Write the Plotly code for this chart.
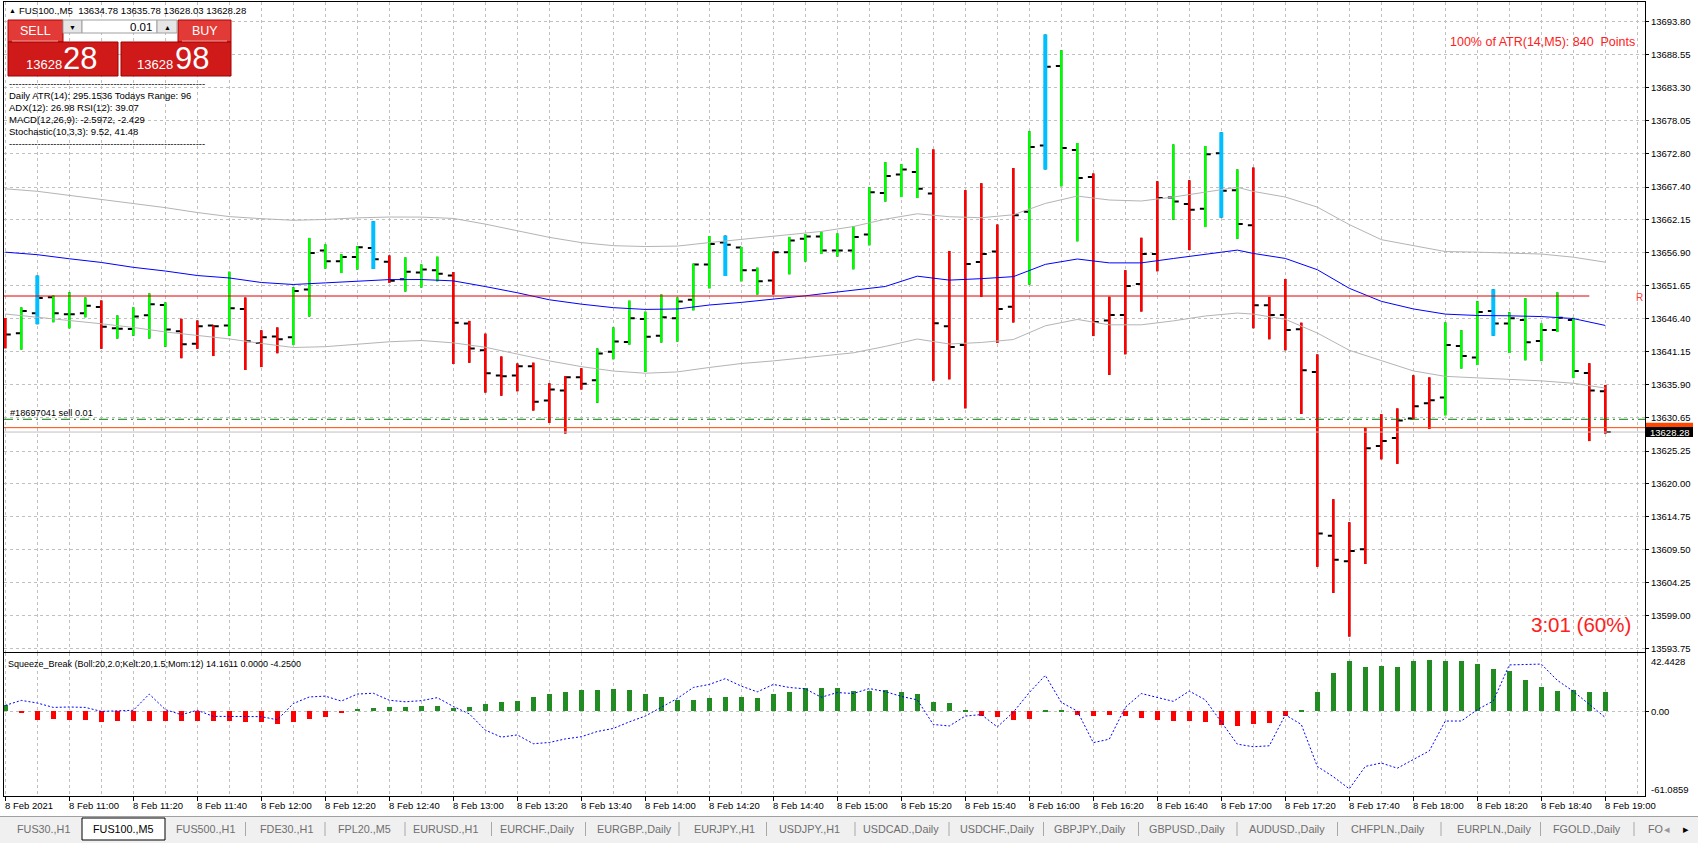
import plotly.graph_objects as go

# ---------------- values ----------------
time_labels = ["8 Feb 2021", "8 Feb 11:00", "8 Feb 11:20", "8 Feb 11:40", "8 Feb 12:00",
               "8 Feb 12:20", "8 Feb 12:40", "8 Feb 13:00", "8 Feb 13:20", "8 Feb 13:40",
               "8 Feb 14:00", "8 Feb 14:20", "8 Feb 14:40", "8 Feb 15:00", "8 Feb 15:20",
               "8 Feb 15:40", "8 Feb 16:00", "8 Feb 16:20", "8 Feb 16:40", "8 Feb 17:00",
               "8 Feb 17:20", "8 Feb 17:40", "8 Feb 18:00", "8 Feb 18:20", "8 Feb 18:40",
               "8 Feb 19:00"]
label_bars = list(range(0, 101, 4))

price_ticks = [13593.75, 13599.00, 13604.25, 13609.50, 13614.75, 13620.00, 13625.25,
               13630.65, 13635.90, 13641.15, 13646.40, 13651.65, 13656.90, 13662.15,
               13667.40, 13672.80, 13678.05, 13683.30, 13688.55, 13693.80]

bar_open = [13645.80, 13644.06, 13647.26, 13649.81, 13647.07, 13647.26, 13648.24, 13644.85, 13644.72, 13646.94,
            13648.57, 13644.39, 13642.37, 13645.31, 13645.31, 13647.92, 13642.50, 13643.54, 13643.41, 13651.05,
            13657.26, 13655.56, 13656.21, 13657.65, 13655.49, 13652.68, 13653.75, 13654.10, 13653.26, 13645.61,
            13641.32, 13637.32, 13637.32, 13638.80, 13633.32, 13634.93, 13637.04, 13636.55, 13641.11, 13642.66,
            13646.31, 13643.64, 13646.45, 13649.40, 13655.02, 13658.53, 13657.76, 13654.10, 13652.49, 13656.98,
            13659.16, 13659.51, 13657.25, 13657.25, 13659.84, 13666.43, 13669.41, 13669.80, 13666.35, 13645.17,
            13642.19, 13655.44, 13657.09, 13648.30, 13663.44, 13674.04, 13686.74, 13673.33, 13669.01, 13646.11,
            13646.97, 13651.91, 13656.70, 13665.72, 13664.70, 13663.92, 13672.78, 13666.90, 13661.30, 13648.54,
            13646.95, 13644.69, 13637.88, 13611.72, 13607.65, 13609.57, 13626.06, 13627.33, 13630.46, 13632.88,
            13633.81, 13642.00, 13640.19, 13647.61, 13645.63, 13646.18, 13642.83, 13644.58, 13646.18, 13637.71,
            13634.78]
bar_high = [13646.50, 13648.18, 13653.27, 13650.07, 13650.59, 13649.75, 13649.29, 13646.87, 13648.18, 13650.40,
            13648.96, 13646.35, 13646.09, 13645.31, 13653.86, 13649.75, 13644.52, 13644.98, 13651.38, 13659.28,
            13658.24, 13656.67, 13657.97, 13661.96, 13656.47, 13656.15, 13655.02, 13656.28, 13653.82, 13646.03,
            13643.99, 13640.34, 13639.22, 13639.36, 13636.06, 13637.18, 13638.45, 13641.61, 13644.98, 13649.26,
            13647.50, 13650.24, 13649.75, 13655.16, 13659.58, 13659.65, 13657.83, 13654.53, 13657.05, 13659.44,
            13659.86, 13660.28, 13659.99, 13661.17, 13667.37, 13671.37, 13671.05, 13673.56, 13673.41, 13657.17,
            13666.90, 13667.99, 13661.40, 13670.43, 13676.31, 13691.76, 13689.25, 13674.43, 13669.56, 13649.87,
            13654.11, 13659.29, 13668.31, 13674.19, 13668.47, 13673.96, 13676.15, 13670.19, 13670.50, 13649.86,
            13652.72, 13645.74, 13640.68, 13617.54, 13613.86, 13628.98, 13631.12, 13632.05, 13637.33, 13637.00,
            13645.79, 13644.53, 13649.15, 13651.07, 13647.39, 13649.64, 13645.63, 13650.57, 13646.51, 13639.25,
            13635.78]
bar_low = [13641.65, 13641.45, 13645.50, 13645.83, 13644.85, 13646.61, 13641.58, 13643.22, 13643.67, 13643.22,
           13641.91, 13640.08, 13641.58, 13640.41, 13643.67, 13638.19, 13638.65, 13640.87, 13642.17, 13646.74,
           13654.38, 13653.66, 13654.25, 13654.32, 13652.10, 13650.73, 13651.37, 13652.35, 13639.15, 13639.36,
           13634.58, 13634.09, 13634.79, 13631.70, 13629.74, 13628.05, 13635.08, 13632.97, 13639.92, 13642.24,
           13637.88, 13642.59, 13642.73, 13647.71, 13651.23, 13653.19, 13652.35, 13650.24, 13650.24, 13653.47,
           13655.51, 13656.70, 13656.31, 13654.27, 13658.11, 13665.09, 13665.80, 13665.64, 13636.46, 13636.69,
           13632.06, 13649.87, 13642.50, 13645.79, 13651.83, 13670.19, 13667.52, 13658.74, 13643.60, 13637.40,
           13640.69, 13647.52, 13653.95, 13662.19, 13657.33, 13661.01, 13662.50, 13659.13, 13644.86, 13643.10,
           13641.34, 13631.17, 13606.77, 13602.59, 13595.62, 13607.21, 13623.92, 13623.20, 13630.35, 13628.76,
           13630.95, 13638.43, 13638.98, 13643.65, 13640.90, 13639.75, 13639.64, 13644.25, 13636.89, 13626.83,
           13628.03]
bar_close = [13643.87, 13647.59, 13649.68, 13647.26, 13647.07, 13648.44, 13645.11, 13644.78, 13646.74, 13648.70,
             13644.65, 13642.30, 13645.18, 13645.18, 13648.05, 13642.76, 13643.41, 13643.09, 13650.79, 13656.86,
             13655.56, 13656.21, 13657.78, 13655.88, 13652.42, 13653.86, 13654.25, 13653.54, 13645.75, 13641.61,
             13637.67, 13637.18, 13638.80, 13633.11, 13635.08, 13637.04, 13635.99, 13640.83, 13642.73, 13646.45,
             13643.50, 13646.59, 13649.12, 13655.02, 13658.32, 13658.18, 13654.10, 13652.35, 13656.98, 13658.88,
             13659.51, 13657.26, 13657.25, 13659.44, 13666.58, 13669.17, 13670.19, 13667.13, 13645.64, 13641.87,
             13655.13, 13656.70, 13647.91, 13662.90, 13673.80, 13686.59, 13673.64, 13668.86, 13645.87, 13646.97,
             13651.60, 13656.70, 13665.64, 13665.09, 13663.76, 13672.62, 13666.82, 13661.48, 13648.54, 13646.95,
             13644.58, 13638.15, 13612.10, 13607.87, 13609.30, 13625.68, 13626.83, 13630.13, 13632.38, 13633.37,
             13642.17, 13640.41, 13647.44, 13645.63, 13646.45, 13642.61, 13644.58, 13646.51, 13638.04, 13634.91,
             13628.28]
# colour painted over each bar by the indicator: g = lime, r = red, b = sky blue
bar_paint = list("rgbgggrggggrrrgrrrgggggbrg" "ggrrrrrrrrrggggggggbggrggg"
                 "ggggggrrrrrrgbggrrrrrgrgbg" "rrrrrrrrrrrrgggbgggggrr")

ma_bars = [0, 2, 4, 6, 8, 10, 12, 14, 16, 18, 20, 22, 24, 26, 28, 30, 32, 34, 36, 38, 40, 42, 44, 46,
           48, 50, 51, 53, 55, 57, 59, 61, 63, 65, 67, 69, 71, 73, 75, 77, 78, 80, 82, 84, 86, 88,
           90, 92, 94, 96, 98, 100]
ma_mid = [13657.00, 13656.60, 13655.95, 13655.36, 13654.58, 13653.99, 13653.27, 13652.88, 13652.16,
          13651.84, 13652.10, 13652.42, 13652.62, 13652.63, 13652.42, 13651.51, 13650.52, 13649.40,
          13648.70, 13648.14, 13647.86, 13647.93, 13648.56, 13648.98, 13649.47, 13650.03, 13650.34,
          13650.97, 13651.52, 13653.17, 13652.54, 13652.77, 13653.09, 13655.05, 13655.91, 13655.29,
          13655.29, 13655.99, 13656.70, 13657.33, 13656.80, 13656.00, 13654.20, 13651.23, 13649.15,
          13647.94, 13647.11, 13646.89, 13646.84, 13646.72, 13646.40, 13645.30]
ma_upper = [13667.12, 13666.72, 13666.07, 13665.42, 13664.83, 13664.11, 13663.33, 13662.68, 13662.35,
            13662.09, 13662.22, 13662.48, 13662.61, 13662.60, 13662.39, 13661.48, 13660.42, 13659.37,
            13658.53, 13658.04, 13657.90, 13657.97, 13658.53, 13659.02, 13659.51, 13660.00, 13660.31,
            13661.09, 13662.27, 13663.13, 13662.66, 13662.50, 13662.97, 13664.78, 13665.96, 13665.33,
            13665.17, 13665.80, 13666.58, 13667.37, 13666.70, 13665.80, 13664.20, 13661.40, 13659.00,
            13658.00, 13657.10, 13657.00, 13656.90, 13656.70, 13656.20, 13655.40]
ma_lower = [13647.13, 13646.55, 13646.09, 13645.57, 13644.98, 13644.26, 13643.67, 13643.15, 13642.43,
            13641.78, 13641.91, 13642.30, 13642.69, 13642.90, 13642.52, 13641.82, 13640.76, 13639.64,
            13638.73, 13638.02, 13637.67, 13637.88, 13638.59, 13639.22, 13639.64, 13640.20, 13640.40,
            13640.93, 13641.95, 13643.13, 13642.34, 13642.58, 13643.05, 13645.24, 13646.26, 13645.40,
            13645.40, 13646.03, 13646.81, 13647.28, 13647.11, 13646.29, 13644.09, 13641.34, 13639.69,
            13638.04, 13637.17, 13636.94, 13636.72, 13636.45, 13636.07, 13635.30]

sq_hist = [4.6, -1.2, -6.3, -5.8, -6.0, -6.3, -7.8, -7.0, -7.0, -7.0,
           -7.0, -7.0, -7.0, -7.0, -7.0, -7.5, -7.4, -9.5, -8.0, -5.9,
           -4.2, -1.5, 1.5, 2.7, 3.3, 3.3, 3.8, 3.8, 2.2, 2.9,
           5.1, 6.7, 7.4, 10.2, 12.5, 13.8, 15.4, 15.4, 16.0, 15.4,
           12.8, 10.6, 8.0, 8.0, 9.6, 10.2, 10.2, 9.6, 12.5, 14.4,
           17.0, 17.0, 16.8, 14.6, 14.6, 15.4, 13.9, 12.9, 7.1, 6.4,
           0.7, -3.2, -3.9, -6.1, -5.7, 0.7, 0.7, -2.5, -3.2, -2.5,
           -3.2, -4.6, -6.1, -7.1, -7.1, -7.5, -9.6, -10.7, -9.3, -8.5,
           -3.5, 1.25, 14.0, 27.8, 36.3, 32.5, 33.3, 32.5, 36.3, 37.1,
           36.3, 36.3, 34.1, 31.0, 29.0, 22.8, 18.0, 15.0, 15.8, 13.8,
           14.1611]
sq_line = [4.6, 8.2, 6.3, 3.1, 3.4, 3.1, 0.2, 0.7, 1.0, 12.8,
           1.5, -2.2, 1.0, -3.4, -3.4, -3.8, -3.6, -5.9, 5.9, 10.7,
           11.3, 7.7, 12.8, 13.4, 8.3, 7.2, 8.0, 10.2, 3.8, -1.6,
           -13.4, -18.5, -16.9, -23.3, -22.4, -19.8, -18.2, -14.4, -12.2, -7.4,
           -3.2, 3.2, 9.6, 17.6, 19.8, 24.0, 18.6, 14.4, 19.8, 17.6,
           16.6, 10.5, 13.9, 13.2, 16.8, 14.6, 11.1, 8.6, -9.3, -10.4,
           -3.2, -2.1, -11.1, -0.4, 13.9, 26.4, 6.8, 0.4, -22.5, -20.0,
           3.2, 13.2, 10.4, 7.5, 15.0, 8.6, -7.5, -23.6, -25.5, -24.8,
           -2.3, -9.3, -39.8, -47.3, -56.1, -39.8, -37.3, -41.1, -34.8, -28.5,
           -6.8, -6.8, 1.5, 7.8, 34.0, 34.3, 34.6, 22.8, 14.8, 5.3,
           -4.25]
sq_max, sq_min = 42.4428, -61.0859

r_level = 13650.0
r_end_bar = 99
order_price = 13630.32
ask_price = 13628.98
bid_price = 13628.28

header_text = "FUS100.,M5  13634.78 13635.78 13628.03 13628.28"
info_lines = ["Daily ATR(14): 295.1536 Todays Range: 96",
              "ADX(12): 26.98 RSI(12): 39.07",
              "MACD(12,26,9): -2.5972, -2.429",
              "Stochastic(10,3,3): 9.52, 41.48"]
sq_title = "Squeeze_Break (Boll:20,2.0;Kelt:20,1.5;Mom:12) 14.1611 0.0000 -4.2500"
tab_names = ["FUS30.,H1", "FUS100.,M5", "FUS500.,H1", "FDE30.,H1", "FPL20.,M5", "EURUSD.,H1",
             "EURCHF.,Daily", "EURGBP.,Daily", "EURJPY.,H1", "USDJPY.,H1", "USDCAD.,Daily",
             "USDCHF.,Daily", "GBPJPY.,Daily", "GBPUSD.,Daily", "AUDUSD.,Daily", "CHFPLN.,Daily",
             "EURPLN.,Daily", "FGOLD.,Daily"]

# ---------------- geometry (pixels of the 1698x843 window) ----------------
W, H = 1698, 843
FONT = "Liberation Sans"
BAR0_PX, BAR_PX = 5.3, 16.0          # x of first bar, bar spacing
LEFT, RIGHT = 4, 1645
MAIN_TOP, MAIN_BOT = 2, 652
IND_TOP, IND_BOT = 653.3, 795.7
PX_PER_PT = 6.2634                    # main panel scale
GRID = "#C0C0C0"
GRID_DASH = "3px,3px"


def px(x):
    return x / W


def py(y):
    return 1 - y / H


x_range = [(LEFT - BAR0_PX) / BAR_PX, (RIGHT - BAR0_PX) / BAR_PX]
y_range = [13593.75 - (MAIN_BOT - 648.3) / PX_PER_PT, 13693.80 + (21.7 - MAIN_TOP) / PX_PER_PT]
bars = list(range(len(bar_open)))

fig = go.Figure()

# black OHLC bars give the open / close ticks
fig.add_trace(go.Ohlc(
    x=bars, open=bar_open, high=bar_high, low=bar_low, close=bar_close,
    increasing=dict(line=dict(color="black", width=2)),
    decreasing=dict(line=dict(color="black", width=2)),
    tickwidth=0.34, hoverinfo="skip", showlegend=False,
))

# coloured high-low bars painted on top
paint = {"g": ("#00FF00", 2.5), "r": ("#FF0000", 2.5), "b": ("#00BFFF", 4)}
for key, (col, lw) in paint.items():
    idx = [i for i in bars if bar_paint[i] == key]
    fig.add_trace(go.Ohlc(
        x=idx,
        open=[bar_open[i] for i in idx], high=[bar_high[i] for i in idx],
        low=[bar_low[i] for i in idx], close=[bar_close[i] for i in idx],
        increasing=dict(line=dict(color=col, width=lw)),
        decreasing=dict(line=dict(color=col, width=lw)),
        tickwidth=0, hoverinfo="skip", showlegend=False,
    ))

for vals, col in [(ma_upper, "#B4B4B4"), (ma_lower, "#B4B4B4"), (ma_mid, "#0000FF")]:
    fig.add_trace(go.Scatter(x=ma_bars, y=vals, mode="lines", line=dict(color=col, width=1),
                             hoverinfo="skip", showlegend=False))

# Squeeze_Break sub-window
fig.add_trace(go.Bar(
    x=bars, y=sq_hist, width=0.31,
    marker=dict(color=["#228B22" if v >= 0 else "#FF0000" for v in sq_hist], line=dict(width=0)),
    xaxis="x2", yaxis="y2", hoverinfo="skip", showlegend=False,
))
fig.add_trace(go.Scatter(
    x=bars, y=sq_line, mode="lines", line=dict(color="#0000FF", width=1, dash="2px,2px"),
    xaxis="x2", yaxis="y2", hoverinfo="skip", showlegend=False,
))

# ---------------- shapes ----------------
shapes = [
    # price lines
    dict(type="line", xref="x", yref="y", x0=x_range[0], x1=r_end_bar, y0=r_level, y1=r_level,
         line=dict(color="#E00000", width=1)),
    dict(type="line", xref="paper", yref="y", x0=px(LEFT), x1=px(RIGHT), y0=order_price, y1=order_price,
         line=dict(color="#008000", width=1, dash="9px,4px,2px,4px")),
    dict(type="line", xref="paper", yref="y", x0=px(LEFT), x1=px(RIGHT), y0=ask_price, y1=ask_price,
         line=dict(color="#FF4500", width=1)),
    dict(type="line", xref="paper", yref="y", x0=px(LEFT), x1=px(RIGHT), y0=bid_price, y1=bid_price,
         line=dict(color="#C0C0C0", width=1)),
    # price boxes on the scale
    dict(type="rect", xref="paper", yref="y", x0=px(1646), x1=px(1693), y0=ask_price - 0.8,
         y1=ask_price + 0.8, fillcolor="#FF4500", line=dict(width=0)),
    dict(type="rect", xref="paper", yref="y", x0=px(1646), x1=px(1693), y0=bid_price - 0.8,
         y1=bid_price + 0.8, fillcolor="black", line=dict(width=0)),
    # one-click trading panel
    dict(type="rect", xref="paper", yref="paper", x0=px(8), x1=px(63), y0=py(42), y1=py(20),
         fillcolor="#E23A36", line=dict(color="#B00000", width=1)),
    dict(type="rect", xref="paper", yref="paper", x0=px(178), x1=px(231), y0=py(42), y1=py(20),
         fillcolor="#E23A36", line=dict(color="#B00000", width=1)),
    dict(type="rect", xref="paper", yref="paper", x0=px(8), x1=px(118), y0=py(76), y1=py(42),
         fillcolor="#D01A1A", line=dict(color="#A00000", width=1)),
    dict(type="rect", xref="paper", yref="paper", x0=px(121), x1=px(231), y0=py(76), y1=py(42),
         fillcolor="#D01A1A", line=dict(color="#A00000", width=1)),
    dict(type="line", xref="paper", yref="paper", x0=px(12), x1=px(58), y0=py(41), y1=py(41),
         line=dict(color="#F4A0A0", width=1)),
    dict(type="line", xref="paper", yref="paper", x0=px(182), x1=px(227), y0=py(41), y1=py(41),
         line=dict(color="#F4A0A0", width=1)),
    dict(type="rect", xref="paper", yref="paper", x0=px(63), x1=px(82), y0=py(33), y1=py(20),
         fillcolor="#E6E6E6", line=dict(color="#A0A0A0", width=1)),
    dict(type="rect", xref="paper", yref="paper", x0=px(82), x1=px(157), y0=py(33), y1=py(20),
         fillcolor="white", line=dict(color="#A0A0A0", width=1)),
    dict(type="rect", xref="paper", yref="paper", x0=px(157), x1=px(177), y0=py(33), y1=py(20),
         fillcolor="#E6E6E6", line=dict(color="#A0A0A0", width=1)),
    # tab strip
    dict(type="rect", xref="paper", yref="paper", x0=0, x1=1, y0=0, y1=py(816),
         fillcolor="#F0F0F0", line=dict(width=0)),
    dict(type="line", xref="paper", yref="paper", x0=0, x1=1, y0=py(816.5), y1=py(816.5),
         line=dict(color="#A0A0A0", width=1)),
    dict(type="rect", xref="paper", yref="paper", x0=px(82), x1=px(165), y0=py(840), y1=py(818),
         fillcolor="white", line=dict(color="black", width=1)),
]

tab_centers = [43, 123.5, 205, 286, 364, 446, 537, 634, 724, 809, 901, 997, 1090, 1187, 1287,
               1388, 1494, 1587]
for a, b in zip(tab_centers[:-1], tab_centers[1:]):
    if a == 123.5 or b == 123.5:
        continue
    sx = (a + b) / 2
    shapes.append(dict(type="line", xref="paper", yref="paper", x0=px(sx), x1=px(sx),
                       y0=py(822), y1=py(836), line=dict(color="#A8A8A8", width=1)))
shapes.append(dict(type="line", xref="paper", yref="paper", x0=px(1634), x1=px(1634),
                   y0=py(822), y1=py(836), line=dict(color="#A8A8A8", width=1)))

# ---------------- text ----------------
ann = []


def note(x, y, text, size, color="black", anchor="left", family=FONT, **kw):
    ann.append(dict(x=px(x), y=py(y), xref="paper", yref="paper", text=text, showarrow=False,
                    xanchor=anchor, yanchor="middle", font=dict(family=family, size=size, color=color),
                    borderpad=0, **kw))


note(12, 10.5, "▲", 7, anchor="center")
note(18, 10.5, header_text, 9.6)
note(35.5, 31, "SELL", 12.5, "white", "center")
note(204.5, 31, "BUY", 12.5, "white", "center")
note(153, 27, "0.01", 11.5, anchor="right")
note(72.5, 27, "▼", 7, anchor="center")
note(167, 27, "▲", 7, anchor="center")
note(43.5, 64.5, "13628", 13, "white", "center")
note(80, 58.5, "28", 31, "white", "center")
note(154.5, 64.5, "13628", 13, "white", "center")
note(192, 58.5, "98", 31, "white", "center")
note(8, 83, "-" * 62, 9.5)
for k, line in enumerate(info_lines):
    note(8, 96 + 11.7 * k, line, 9.5)
note(8, 143, "-" * 62, 9.5)

note(1636, 42, "100% of ATR(14,M5): 840\u00a0 Points", 12.5, "#FF2020", "right")
note(1580.5, 624.5, "3:01 (60%)", 20.5, "#FF2020", "center")
note(1639, 297, "R", 10, "#FF4040", "center")
note(9, 413, "#18697041 sell 0.01", 9.2)
note(7, 663.5, sq_title, 9)
note(1650, 661, f"{sq_max:.4f}", 9.5)
note(1650, 789.5, f"{sq_min:.4f}", 9.5)

ann.append(dict(x=px(1669.5), y=bid_price, xref="paper", yref="y", text=f"{bid_price:.2f}",
                showarrow=False, xanchor="center", yanchor="middle",
                font=dict(family=FONT, size=9.5, color="white")))

for b, lab in zip(label_bars, time_labels):
    ann.append(dict(x=b, y=py(805.5), xref="x2", yref="paper", text=lab, showarrow=False,
                    xanchor="left", yanchor="middle", xshift=-2,
                    font=dict(family=FONT, size=9.5, color="black")))

for c, name in zip(tab_centers, tab_names):
    note(c, 829, name, 10.8, "black" if name == "FUS100.,M5" else "#6E6E6E", "center")
note(1647, 829, "FO", 10.8, "#6E6E6E")
note(1667, 829, "◂", 11, "#9A9A9A", "center")
note(1686, 829, "▸", 11, "black", "center")

# ---------------- axes ----------------
xcommon = dict(
    domain=[px(LEFT), px(RIGHT)], range=x_range, tickvals=label_bars, showticklabels=False,
    showgrid=True, gridcolor=GRID, griddash=GRID_DASH, gridwidth=1,
    minor=dict(tickvals=list(range(2, 103, 4)), showgrid=True, gridcolor=GRID, griddash=GRID_DASH),
    showline=True, linecolor="black", linewidth=1, mirror=True, zeroline=False, fixedrange=True,
)
fig.update_layout(
    width=W, height=H, margin=dict(l=0, r=0, t=0, b=0),
    paper_bgcolor="white", plot_bgcolor="white", template="none",
    font=dict(family=FONT, size=10, color="black"),
    showlegend=False, bargap=0, hovermode=False,
    xaxis=dict(xcommon, anchor="y", ticks="", rangeslider=dict(visible=False)),
    xaxis2=dict(xcommon, anchor="y2", ticks="outside", ticklen=4, tickcolor="black"),
    yaxis=dict(
        domain=[py(MAIN_BOT), py(MAIN_TOP)], range=y_range, anchor="x", side="right",
        tickvals=price_ticks, ticktext=[f"{v:.2f}" for v in price_ticks],
        tickfont=dict(family=FONT, size=9.5, color="black"),
        ticks="outside", ticklen=3, tickcolor="black",
        showgrid=True, gridcolor=GRID, griddash=GRID_DASH,
        showline=True, linecolor="black", mirror=True, zeroline=False, fixedrange=True,
    ),
    yaxis2=dict(
        domain=[py(IND_BOT), py(IND_TOP)], range=[sq_min, sq_max], anchor="x2", side="right",
        tickvals=[0], ticktext=["0.00"], tickfont=dict(family=FONT, size=9.5, color="black"),
        ticks="outside", ticklen=3, tickcolor="black",
        showgrid=True, gridcolor=GRID, griddash=GRID_DASH,
        showline=True, linecolor="black", mirror=True, zeroline=False, fixedrange=True,
    ),
    shapes=shapes, annotations=ann,
)

fig.write_html("out.html", config=dict(displayModeBar=False),
               post_script="document.body.style.margin='0';")
